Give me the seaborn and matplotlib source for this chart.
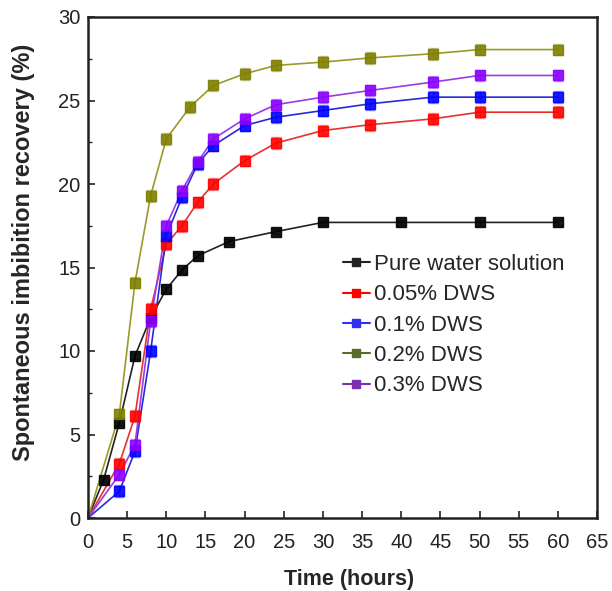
import numpy as np
import pandas as pd
import matplotlib
matplotlib.use("Agg")
import matplotlib.pyplot as plt
import seaborn as sns
from matplotlib.ticker import MultipleLocator
from matplotlib.lines import Line2D

# ---- data ----
series_names = ["Pure water solution", "0.05% DWS", "0.1% DWS", "0.2% DWS", "0.3% DWS"]

t_water = [0, 2, 4, 6, 8, 10, 12, 14, 18, 24, 30, 40, 50, 60]
y_water = [0, 2.3, 5.7, 9.7, 12.0, 13.7, 14.85, 15.7, 16.55, 17.15, 17.7, 17.7, 17.7, 17.7]

t_005 = [0, 4, 6, 8, 10, 12, 14, 16, 20, 24, 30, 36, 44, 50, 60]
y_005 = [0, 3.25, 6.1, 12.5, 16.4, 17.5, 18.9, 20.0, 21.4, 22.45, 23.2, 23.55, 23.9, 24.3, 24.3]

t_01 = [0, 4, 6, 8, 10, 12, 14, 16, 20, 24, 30, 36, 44, 50, 60]
y_01 = [0, 1.6, 4.0, 10.0, 16.9, 19.2, 21.2, 22.3, 23.5, 24.0, 24.4, 24.8, 25.2, 25.2, 25.2]

t_02 = [0, 4, 6, 8, 10, 13, 16, 20, 24, 30, 36, 44, 50, 60]
y_02 = [0, 6.2, 14.1, 19.3, 22.7, 24.6, 25.9, 26.6, 27.1, 27.3, 27.55, 27.8, 28.05, 28.05]

t_03 = [0, 4, 6, 8, 10, 12, 14, 16, 20, 24, 30, 36, 44, 50, 60]
y_03 = [0, 2.6, 4.4, 11.8, 17.5, 19.6, 21.3, 22.7, 23.9, 24.75, 25.2, 25.6, 26.1, 26.5, 26.5]

err = [0.15, 0.35, 0.35, 0.35, 0.35]   # error-bar half widths per series

x_ticks = [0, 5, 10, 15, 20, 25, 30, 35, 40, 45, 50, 55, 60, 65]
y_ticks = [0, 5, 10, 15, 20, 25, 30]

colors = ["#000000", "#ff0000", "#0000ff", "#7f7f00", "#8a00ff"]
line_colors = ["#222222", "#e83030", "#2a2ad8", "#9a9a2a", "#9a3ae8"]
legend_colors = ["#222222", "#ff0000", "#3030ee", "#5a6a2a", "#7a30b0"]

times = [t_water, t_005, t_01, t_02, t_03]
vals = [y_water, y_005, y_01, y_02, y_03]

df = pd.concat([
    pd.DataFrame({"Time": t, "Recovery": v, "Series": n})
    for t, v, n in zip(times, vals, series_names)
], ignore_index=True)

# ---- style ----
sns.set_style("ticks")
plt.rcParams["font.family"] = ["Liberation Sans", "DejaVu Sans"]
plt.rcParams["xtick.direction"] = "in"
plt.rcParams["ytick.direction"] = "in"

fig = plt.figure(figsize=(6.12, 5.91), dpi=100)
L, R, B, T = 88, 597, 518, 17
ax = fig.add_axes([L/612, 1-B/591, (R-L)/612, (B-T)/591])

sns.lineplot(data=df, x="Time", y="Recovery", hue="Series", hue_order=series_names,
             palette=dict(zip(series_names, line_colors)), linewidth=1.2,
             estimator=None, sort=False, legend=False, ax=ax, zorder=2)

for t, v, e, c in zip(times, vals, err, colors):
    ax.errorbar(t[1:], v[1:], yerr=e, fmt="none", ecolor=c, alpha=0.45,
                capsize=3.5, elinewidth=1.0, capthick=1.0, zorder=3)
    ax.plot(t[1:], v[1:], linestyle="none", marker="s", markersize=6.8,
            markerfacecolor=c, markeredgecolor=c, alpha=0.9, zorder=4)

ax.set_xlim(0, 65)
ax.set_ylim(0, 30)
ax.set_xticks(x_ticks)
ax.set_yticks(y_ticks)
ax.yaxis.set_minor_locator(MultipleLocator(2.5))
ax.tick_params(axis="both", which="major", length=5, width=1.2, labelsize=14.5,
               colors="#222222", top=False, right=False)
ax.tick_params(axis="x", which="major", pad=11)
ax.tick_params(axis="y", which="major", pad=5.5)
ax.tick_params(axis="y", which="minor", length=3, width=1.0, left=True, right=False)
for s in ax.spines.values():
    s.set_linewidth(1.8)
    s.set_color("#222222")

ax.set_xlabel("Time (hours)", fontsize=15.5, fontweight="bold")
ax.set_ylabel("Spontaneous imbibition recovery (%)", fontsize=17, fontweight="bold")
ax.xaxis.set_label_coords((349-L)/(R-L), (B-569)/(B-T))
ax.yaxis.set_label_coords((35-L)/(R-L), (B-252)/(B-T))

handles = [Line2D([0], [0], color=c, marker="s", markersize=6, linewidth=1.5)
           for c in legend_colors]
ax.legend(handles, series_names, loc="upper left",
          bbox_to_anchor=((343-L)/(R-L), (B-254)/(B-T)), frameon=False,
          fontsize=16, handlelength=1.2, handletextpad=0.2, labelspacing=0.42,
          borderpad=0, borderaxespad=0)

fig.savefig("out.png", dpi=100)
